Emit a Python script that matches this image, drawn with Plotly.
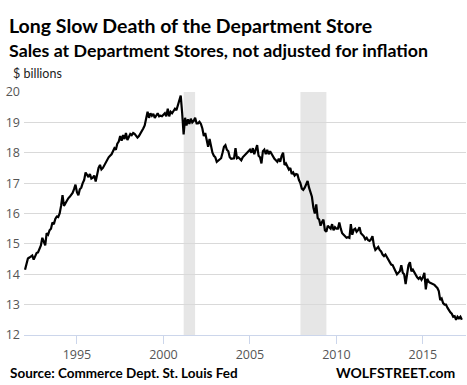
import plotly.graph_objects as go

# ---- data (monthly, $ billions) ----
start_year = 1992
sales = {
    1992: [14.15, 14.4, 14.52, 14.55, 14.6, 14.62, 14.48, 14.6, 14.7, 14.72, 14.83, 14.95],
    1993: [15.2, 15.1, 14.95, 15.35, 15.3, 15.45, 15.5, 15.7, 15.65, 15.82, 15.9, 15.88],
    1994: [16.0, 16.25, 16.6, 16.25, 16.35, 16.42, 16.5, 16.55, 16.6, 16.68, 16.8, 16.95],
    1995: [16.7, 16.6, 16.8, 16.85, 17.0, 17.1, 17.35, 17.25, 17.2, 17.3, 17.15, 17.18],
    1996: [17.25, 17.05, 17.3, 17.5, 17.6, 17.45, 17.5, 17.6, 17.7, 17.78, 17.85, 17.9],
    1997: [17.95, 18.05, 18.15, 18.1, 18.3, 18.37, 18.55, 18.4, 18.58, 18.45, 18.65, 18.42],
    1998: [18.55, 18.62, 18.58, 18.65, 18.62, 18.55, 18.5, 18.55, 18.62, 18.7, 18.8, 18.9],
    1999: [19.1, 19.35, 19.15, 19.3, 19.22, 19.28, 19.15, 19.25, 19.3, 19.2, 19.22, 19.2],
    2000: [19.25, 19.3, 19.2, 19.45, 19.2, 19.35, 19.3, 19.4, 19.45, 19.4, 19.55, 19.7],
    2001: [19.88, 19.3, 18.6, 19.15, 18.9, 19.1, 18.95, 19.12, 19.0, 19.05, 19.15, 18.97],
    2002: [18.97, 19.02, 18.95, 18.8, 18.55, 18.65, 18.4, 18.2, 18.45, 18.15, 18.0, 17.9],
    2003: [17.85, 17.7, 17.75, 17.8, 17.82, 18.0, 18.2, 18.25, 18.1, 18.05, 17.85, 17.8],
    2004: [17.8, 17.82, 18.15, 17.82, 17.85, 17.78, 17.75, 17.85, 17.9, 17.95, 18.0, 18.05],
    2005: [18.1, 18.0, 18.15, 17.95, 18.1, 18.25, 17.9, 17.85, 17.65, 18.05, 18.1, 17.95],
    2006: [18.1, 17.95, 18.05, 17.95, 17.85, 17.8, 17.75, 17.7, 17.8, 17.7, 17.9, 18.0],
    2007: [17.6, 17.65, 17.55, 17.45, 17.5, 17.3, 17.35, 17.25, 17.3, 17.28, 17.1, 17.0],
    2008: [16.82, 16.78, 16.85, 16.95, 17.07, 16.85, 16.7, 16.55, 16.2, 16.0, 16.3, 15.85],
    2009: [15.8, 15.6, 15.72, 15.8, 15.45, 15.4, 15.6, 15.55, 15.5, 15.65, 15.45, 15.55],
    2010: [15.5, 15.5, 15.7, 15.5, 15.35, 15.3, 15.25, 15.2, 15.22, 15.2, 15.65, 15.3],
    2011: [15.47, 15.5, 15.4, 15.45, 15.55, 15.35, 15.3, 15.25, 15.15, 15.2, 15.12, 15.1],
    2012: [15.15, 15.25, 14.95, 14.8, 14.85, 14.9, 14.8, 14.75, 14.65, 14.6, 14.65, 14.55],
    2013: [14.48, 14.4, 14.32, 14.3, 14.2, 14.1, 14.0, 14.05, 14.1, 14.3, 14.05, 14.0],
    2014: [13.68, 14.0, 14.3, 14.4, 14.1, 14.15, 14.05, 13.95, 13.9, 13.85, 13.9, 13.82],
    2015: [13.9, 14.05, 13.5, 13.85, 13.75, 13.72, 13.7, 13.68, 13.65, 13.6, 13.55, 13.45],
    2016: [13.15, 13.2, 13.05, 13.0, 13.0, 12.9, 12.8, 12.75, 12.7, 12.6, 12.62, 12.5],
    2017: [12.6, 12.55, 12.6, 12.5],
}
recessions = [(2001.17, 2001.83), (2007.92, 2009.42)]
x_ticks = [1995, 2000, 2005, 2010, 2015]
y_ticks = [12, 13, 14, 15, 16, 17, 18, 19, 20]

x_vals, y_vals = [], []
for yr, months in sales.items():
    for m, v in enumerate(months):
        x_vals.append(yr + m / 12.0)
        y_vals.append(v)

W, H = 467, 385
L, R, T, B = 24, 1, 92, 50
pw, ph = W - L - R, H - T - B

def px(xp):
    return (xp - L) / pw

def py(yp):
    return (H - B - yp) / ph

fig = go.Figure()
fig.add_trace(go.Scatter(x=x_vals, y=y_vals, mode="lines",
                         line=dict(color="#000000", width=2.2),
                         hoverinfo="skip", showlegend=False))

for a, b in recessions:
    fig.add_shape(type="rect", xref="x", yref="paper", x0=a, x1=b, y0=0, y1=1,
                  fillcolor="#e6e6e6", line=dict(width=0), layer="below")

FONT = "Open Sans"
fig.update_layout(
    width=W, height=H,
    margin=dict(l=L, r=R, t=T, b=B, pad=0),
    paper_bgcolor="white", plot_bgcolor="white",
    font=dict(family=FONT, color="#666666", size=12),
    xaxis=dict(range=[1991.94, 2017.49], tickvals=x_ticks,
               ticktext=[str(t) for t in x_ticks],
               showgrid=False, zeroline=False,
               showline=True, linecolor="#ccd6eb", linewidth=1,
               ticks="outside", ticklen=8, tickcolor="#ccd6eb",
               tickfont=dict(size=12.5, color="#555555")),
    yaxis=dict(range=[12, 20], tickvals=y_ticks,
               showgrid=True, gridcolor="#d9d9d9", gridwidth=1,
               zeroline=False, showline=False, ticks="",
               ticklabelstandoff=3,
               tickfont=dict(size=12.5, color="#555555")),
    annotations=[
        dict(text="<b>Long Slow Death of the Department Store</b>",
             xref="paper", yref="paper", x=px(7), y=py(25),
             xanchor="left", yanchor="middle", showarrow=False,
             font=dict(family="Lato", size=19.5, color="#000000")),
        dict(text="<b>Sales at Department Stores, not adjusted for inflation</b>",
             xref="paper", yref="paper", x=px(7), y=py(50),
             xanchor="left", yanchor="middle", showarrow=False,
             font=dict(family="Lato", size=17.8, color="#000000")),
        dict(text="$ billions",
             xref="paper", yref="paper", x=px(11), y=py(73),
             xanchor="left", yanchor="middle", showarrow=False,
             font=dict(family="Lato", size=12.5, color="#222222")),
        dict(text="<b>Source: Commerce Dept. St. Louis Fed</b>",
             xref="paper", yref="paper", x=px(8), y=py(372.5),
             xanchor="left", yanchor="middle", showarrow=False,
             font=dict(family="Lato", size=13.5, color="#000000")),
        dict(text="<b>WOLFSTREET.com</b>",
             xref="paper", yref="paper", x=px(457), y=py(372.5),
             xanchor="right", yanchor="middle", showarrow=False,
             font=dict(family="Lato", size=14, color="#000000")),
    ],
)

fig.write_html("out.html", config={"displayModeBar": False},
               post_script="document.body.style.margin='0';document.body.style.overflow='hidden';")
